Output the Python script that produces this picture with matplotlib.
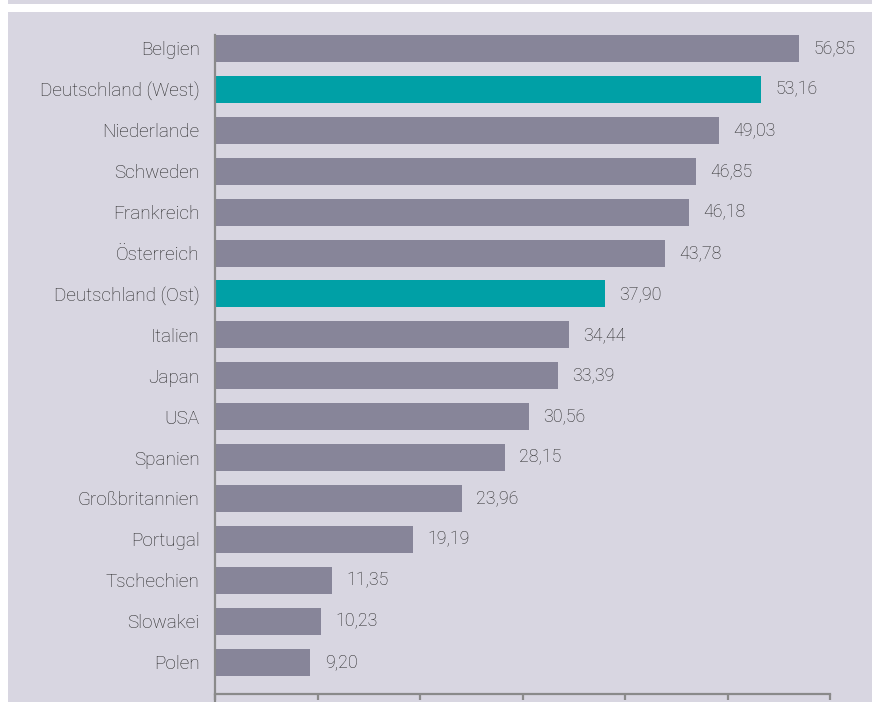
import matplotlib
matplotlib.use('Agg')
import matplotlib.pyplot as plt
from matplotlib.patches import Rectangle

laender = ['Belgien', 'Deutschland (West)', 'Niederlande', 'Schweden', 'Frankreich',
           'Österreich', 'Deutschland (Ost)', 'Italien', 'Japan', 'USA', 'Spanien',
           'Großbritannien', 'Portugal', 'Tschechien', 'Slowakei', 'Polen']
werte = [56.85, 53.16, 49.03, 46.85, 46.18, 43.78, 37.90, 34.44, 33.39, 30.56,
         28.15, 23.96, 19.19, 11.35, 10.23, 9.20]
hervorgehoben = ['Deutschland (West)', 'Deutschland (Ost)']

bg = '#d8d6e1'
grau = '#878599'
teal = '#00a0a6'
text_farbe = '#262626'
achse = '#8a8a8a'

plt.rcParams['font.family'] = ['Roboto', 'DejaVu Sans']
plt.rcParams['font.weight'] = 'light'

W, H = 874, 702
fig = plt.figure(figsize=(W / 100, H / 100), dpi=100)
fig.patch.set_facecolor('white')
# Hintergrundflaechen
fig.patches.append(Rectangle((8 / W, 0), 864 / W, 690 / H, transform=fig.transFigure,
                             facecolor=bg, edgecolor='none', zorder=-5))
fig.patches.append(Rectangle((8 / W, 698 / H), 864 / W, 4 / H, transform=fig.transFigure,
                             facecolor=bg, edgecolor='none', zorder=-5))

ax = fig.add_axes([215 / W, 8 / H, 615 / W, 659 / H])
ax.set_facecolor('none')
ax.set_zorder(1)

farben = [teal if l in hervorgehoben else grau for l in laender]
pos = list(range(len(laender)))
ax.barh(pos, werte, height=0.66, color=farben, left=0.1)

for p, w in zip(pos, werte):
    ax.text(w + 1.5, p, f'{w:.2f}'.replace('.', ','), va='center', ha='left',
            fontsize=12.8, color=text_farbe)

ax.set_xlim(0, 60)
ax.set_ylim(15.78, -0.33)
ax.set_yticks(pos)
ax.set_yticklabels(laender, fontsize=13.6, color=text_farbe)
ax.tick_params(axis='y', length=0, pad=11)
ax.set_xticks(range(0, 61, 10))
ax.set_xticklabels([])
ax.tick_params(axis='x', length=4.5, width=1.6, color=achse, direction='out')

for s in ['top', 'right']:
    ax.spines[s].set_visible(False)
for s in ['left', 'bottom']:
    ax.spines[s].set_color(achse)
    ax.spines[s].set_linewidth(1.6)
ax.spines['left'].set_bounds(16.0, -0.33)

fig.savefig('out.png', dpi=100, facecolor=fig.get_facecolor())
